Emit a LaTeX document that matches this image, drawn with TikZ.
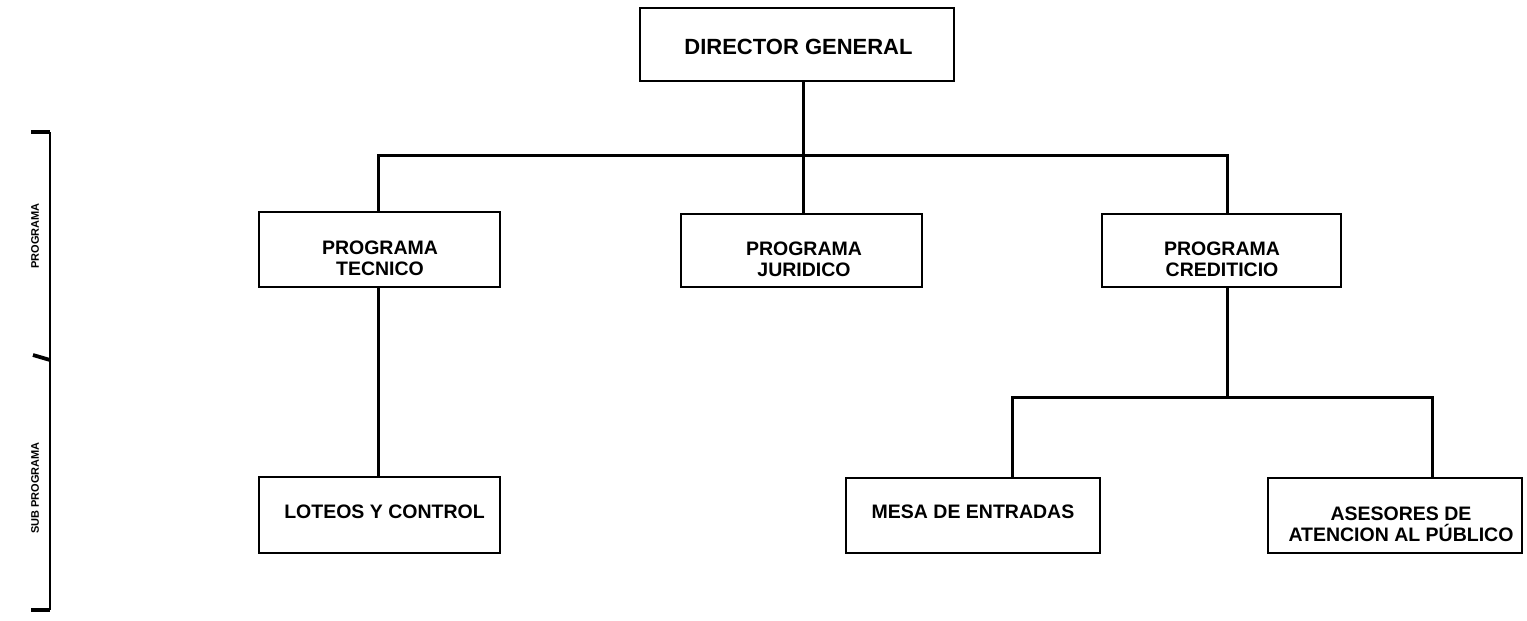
\documentclass[tikz,border=0pt]{standalone}
\usepackage{fontspec}
\setmainfont{Liberation Sans}
\begin{document}
\begin{tikzpicture}[x=1pt,y=-1pt,
  box/.style={draw, line width=2.8pt, inner sep=0pt, outer sep=0pt},
  txt/.style={inner sep=0pt, align=center, anchor=base, font=\fontsize{19.5}{21}\selectfont\bfseries},
  bigtxt/.style={inner sep=0pt, anchor=base, font=\fontsize{22}{24}\selectfont\bfseries},
  side/.style={inner sep=0pt, rotate=90, font=\fontsize{11}{12}\selectfont\bfseries},
  conn/.style={line width=3pt},
  brk/.style={line width=2.6pt},
  tick/.style={line width=3.8pt}]
\useasboundingbox (0,0) rectangle (1527,621);
% boxes
\node[box, minimum width=314pt, minimum height=73pt] (dir) at (797,44.5) {};
\node[box, minimum width=241pt, minimum height=75pt] (tec) at (379.5,249.5) {};
\node[box, minimum width=241pt, minimum height=73pt] (jur) at (801.5,250.5) {};
\node[box, minimum width=239pt, minimum height=73pt] (cre) at (1221.5,250.5) {};
\node[box, minimum width=241pt, minimum height=76pt] (lot) at (379.5,515) {};
\node[box, minimum width=254pt, minimum height=75pt] (mes) at (973,515.5) {};
\node[box, minimum width=254pt, minimum height=75pt] (ase) at (1395,515.5) {};
% texts (base = baseline of last line)
\node[bigtxt] (tdir) at (798.5,54) {DIRECTOR GENERAL};
\node[txt] (ttec) at (380,275) {PROGRAMA\\TECNICO};
\node[txt] (tjur) at (804,276) {PROGRAMA\\JURIDICO};
\node[txt] (tcre) at (1222,276) {PROGRAMA\\CREDITICIO};
\node[txt] (tlot) at (384.5,518) {LOTEOS Y CONTROL};
\node[txt] (tmes) at (973,518) {MESA DE ENTRADAS};
\node[txt] (tase) at (1401,541) {ASESORES DE\\ATENCION AL PÚBLICO};
% connector coordinates
\coordinate (hl) at (378,155);
\coordinate (hm) at (803,155);
\coordinate (hr) at (1227,155);
\coordinate (cd) at (1227,397);
\coordinate (ml) at (1012,397);
\coordinate (mr) at (1432,397);
% connectors
\draw[conn] (dir.south -| hm) -- (hm);
\draw[conn] (hm) -- (jur.north -| hm);
\draw[conn] (tec.north -| hl) -- (hl) -- (hr) -- (cre.north -| hr);
\draw[conn] (tec.south -| hl) -- (lot.north -| hl);
\draw[conn] (cre.south -| cd) -- (cd);
\draw[conn] (mes.north -| ml) -- (ml) -- (mr) -- (ase.north -| mr);
% left bracket
\coordinate (bt) at (50,132);
\coordinate (bm) at (50,360);
\coordinate (bb) at (50,610);
\draw[brk] (bt) -- (bb);
\draw[tick] (31,132) -- (bt);
\draw[tick] (33,355) -- (bm);
\draw[tick] (31,610) -- (bb);
\node[side] (lprog) at (35,236) {PROGRAMA};
\node[side] (lsub) at (35,488) {SUB PROGRAMA};
\end{tikzpicture}
\end{document}
